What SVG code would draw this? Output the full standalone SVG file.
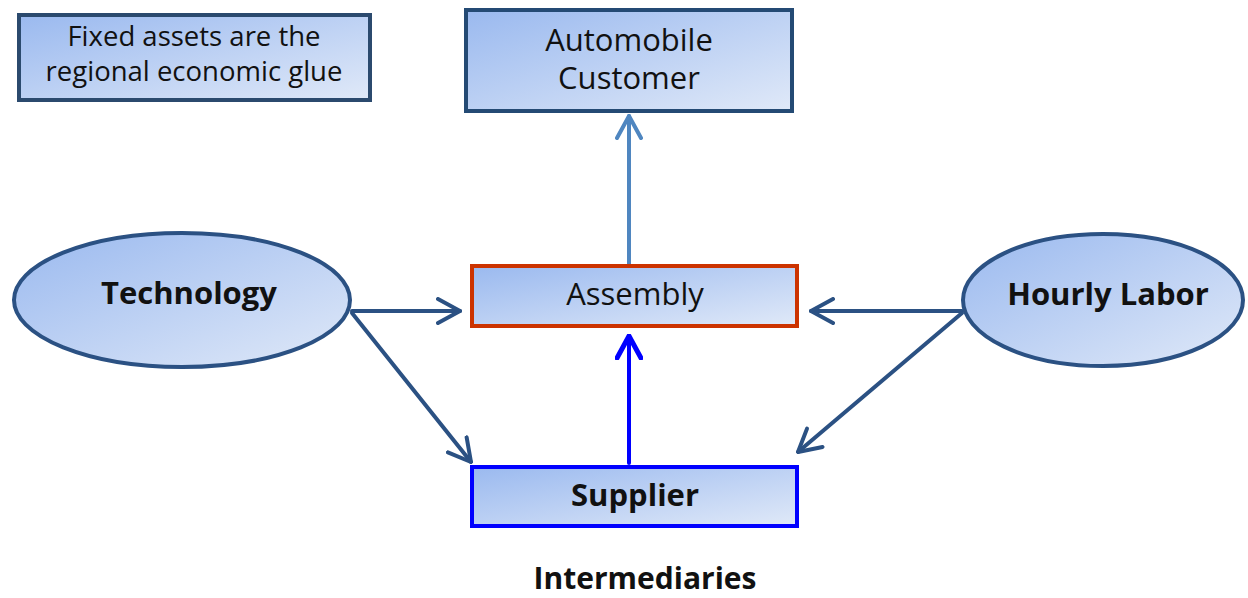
<svg xmlns="http://www.w3.org/2000/svg" width="1248" height="598" viewBox="0 0 1248 598">
<style>
text{font-family:"Open Sans","Noto Sans","DejaVu Sans",sans-serif;fill:#111;text-anchor:middle;font-size:31px}
.b{font-weight:bold}
.s{font-size:27.5px}
.conn{fill:none;stroke-width:4;stroke-linecap:round}
.navy{stroke:#2b5183}
</style>
<defs>
<linearGradient id="g" x1="0" y1="0" x2="1" y2="1">
<stop offset="0" stop-color="#9ab9ef"/>
<stop offset="1" stop-color="#e0e9f8"/>
</linearGradient>
<marker id="aNavy" viewBox="0 0 26 28" refX="24" refY="14" markerWidth="26" markerHeight="28" markerUnits="userSpaceOnUse" orient="auto">
<path d="M2,2 L24,14 L2,26" fill="none" stroke="#2b5183" stroke-width="4" stroke-linecap="round" stroke-linejoin="round"/>
</marker>
<marker id="aLight" viewBox="0 0 26 28" refX="24" refY="14" markerWidth="26" markerHeight="28" markerUnits="userSpaceOnUse" orient="auto">
<path d="M2,2 L24,14 L2,26" fill="none" stroke="#4f86c0" stroke-width="4" stroke-linecap="round" stroke-linejoin="round"/>
</marker>
<marker id="aBlue" viewBox="0 0 26 28" refX="24" refY="14" markerWidth="26" markerHeight="28" markerUnits="userSpaceOnUse" orient="auto">
<path d="M2,2 L24,14 L2,26" fill="none" stroke="#0000ff" stroke-width="5" stroke-linecap="round" stroke-linejoin="round"/>
</marker>
</defs>
<rect width="1248" height="598" fill="#fff"/>
<g id="connectors">
<line class="conn" x1="629" y1="266" x2="629" y2="116" stroke="#4f86c0" marker-end="url(#aLight)"/>
<line class="conn navy" x1="352" y1="311" x2="460" y2="311" marker-end="url(#aNavy)"/>
<line class="conn navy" x1="352" y1="313" x2="471" y2="462" marker-end="url(#aNavy)"/>
<line class="conn navy" x1="962" y1="311" x2="811" y2="311" marker-end="url(#aNavy)"/>
<line class="conn navy" x1="962" y1="313" x2="798" y2="452" marker-end="url(#aNavy)"/>
<line class="conn" x1="629" y1="463" x2="629" y2="336" stroke="#0000ff" stroke-width="5" marker-end="url(#aBlue)"/>
</g>
<g id="note">
<rect x="19" y="15" width="351" height="85" fill="url(#g)" stroke="#2b4a6e" stroke-width="4"/>
<text class="s" x="194" y="46">Fixed assets are the</text>
<text class="s" x="194" y="81">regional economic glue</text>
</g>
<g id="customer">
<rect x="466" y="10" width="326" height="101" fill="url(#g)" stroke="#244a74" stroke-width="4"/>
<text x="629" y="51">Automobile</text>
<text x="629" y="89">Customer</text>
</g>
<g id="technology">
<ellipse cx="182" cy="300" rx="168" ry="67" fill="url(#g)" stroke="#2b5183" stroke-width="4"/>
<text class="b" x="189" y="304">Technology</text>
</g>
<g id="assembly">
<rect x="472" y="266" width="325" height="60" fill="url(#g)" stroke="#cc3300" stroke-width="4"/>
<text x="635" y="305">Assembly</text>
</g>
<g id="hourly">
<ellipse cx="1103" cy="300" rx="140" ry="66" fill="url(#g)" stroke="#2b5183" stroke-width="4"/>
<text class="b" x="1108" y="305">Hourly Labor</text>
</g>
<g id="supplier">
<rect x="472" y="467" width="325" height="59" fill="url(#g)" stroke="#0000ff" stroke-width="4"/>
<text class="b" x="635" y="506">Supplier</text>
</g>
<g id="caption">
<text class="b" x="645" y="589" style="font-size:30px">Intermediaries</text>
</g>
</svg>
